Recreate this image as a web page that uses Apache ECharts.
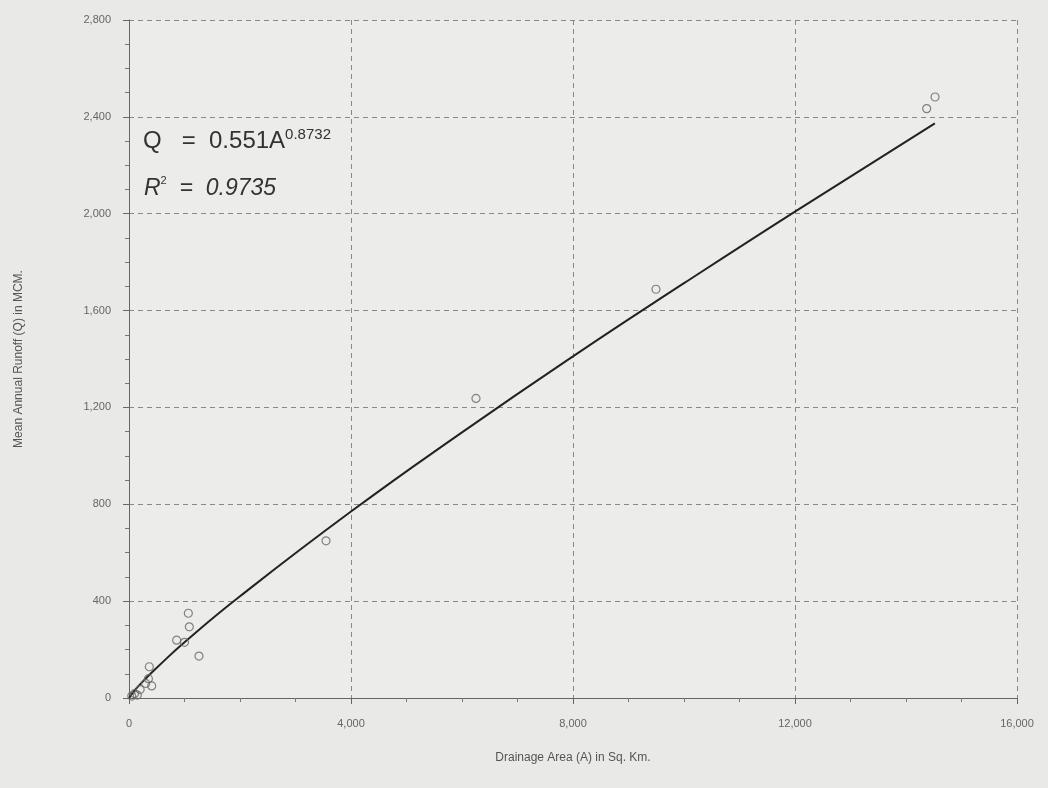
<!DOCTYPE html>
<html>
<head>
<meta charset="utf-8">
<script src="https://cdn.jsdelivr.net/npm/echarts@6/dist/echarts.min.js"></script>
<style>
html,body{margin:0;padding:0;background:#e9e9e7;}
#c{width:1048px;height:788px;}
</style>
</head>
<body>
<div id="c"></div>
<script>
// Observed data: drainage area (sq. km) and mean annual runoff (MCM)
const areaObs = [50, 100, 150, 200, 300, 350, 366, 409, 859, 1000, 1069, 1087, 1261, 3550, 6252, 9495, 14373, 14523];
const runoffObs = [8, 18, 12, 35, 60, 80, 129, 50, 239, 230, 350, 294, 173, 649, 1237, 1688, 2434, 2482];
// Fitted curve
const fitArea = [0, 100, 300, 500, 1000, 2000, 4000, 6000, 8000, 10000, 12000, 14520];
const fitRunoff = [0, 31, 80, 125, 230, 420, 770, 1097, 1411, 1713, 2009, 2373];
const xTicks = [0, 4000, 8000, 12000, 16000];
const yTicks = [0, 400, 800, 1200, 1600, 2000, 2400, 2800];

const chart = echarts.init(document.getElementById('c'));
const fmt = v => v.toLocaleString('en-US');
chart.setOption({
  backgroundColor: '#e9e9e7',
  animation: false,
  grid: {left: 129, right: 31, top: 20, bottom: 90, show: true, backgroundColor: '#ececea', borderWidth: 0},
  xAxis: {
    type: 'value', min: xTicks[0], max: xTicks[xTicks.length-1], interval: 4000,
    name: 'Drainage Area (A) in Sq. Km.', nameLocation: 'middle', nameGap: 54,
    nameTextStyle: {color: '#555', fontSize: 12, fontFamily: 'Liberation Sans'},
    axisLine: {show: true, lineStyle: {color: '#666', width: 1}},
    axisTick: {show: true, length: 6, lineStyle: {color: '#666'}},
    minorTick: {show: true, splitNumber: 4, length: 4, lineStyle: {color: '#777'}},
    axisLabel: {color: '#666', fontSize: 11, fontFamily: 'Liberation Sans', margin: 20, formatter: fmt},
    splitLine: {show: true, lineStyle: {color: '#888', type: [5, 4], width: 1}}
  },
  yAxis: {
    type: 'value', min: yTicks[0], max: yTicks[yTicks.length-1], interval: 400,
    name: 'Mean Annual Runoff (Q) in MCM.', nameLocation: 'middle', nameGap: 104, nameRotate: 90,
    nameTextStyle: {color: '#555', fontSize: 12, fontFamily: 'Liberation Sans'},
    axisLine: {show: true, lineStyle: {color: '#666', width: 1}},
    axisTick: {show: true, length: 6, lineStyle: {color: '#666'}},
    minorTick: {show: true, splitNumber: 4, length: 4, lineStyle: {color: '#777'}},
    axisLabel: {color: '#666', fontSize: 11, fontFamily: 'Liberation Sans', margin: 18, formatter: fmt},
    splitLine: {show: true, lineStyle: {color: '#888', type: [5, 4], width: 1}}
  },
  series: [
    {
      type: 'line', data: fitArea.map((a, i) => [a, fitRunoff[i]]),
      smooth: true, showSymbol: false, symbol: 'none',
      lineStyle: {color: '#222', width: 2}, z: 3
    },
    {
      type: 'scatter', data: areaObs.map((a, i) => [a, runoffObs[i]]),
      symbol: 'circle', symbolSize: 8,
      itemStyle: {color: 'rgba(0,0,0,0)', borderColor: '#666', borderWidth: 1.2}, z: 4
    }
  ],
  graphic: [
    {type: 'text', left: 143, top: 127, style: {
      text: '{a|Q   =  0.551A}{s|0.8732}', rich: {
        a: {fontSize: 24, fill: '#333', fontFamily: 'Liberation Sans', lineHeight: 28},
        s: {fontSize: 15, fill: '#333', fontFamily: 'Liberation Sans', verticalAlign: 'top', lineHeight: 16}
      }}},
    {type: 'text', left: 144, top: 175, style: {
      text: '{a|R}{s|2}{b|  =  0.9735}', rich: {
        a: {fontSize: 23, fill: '#333', fontStyle: 'italic', fontFamily: 'Liberation Sans', lineHeight: 28},
        s: {fontSize: 11, fill: '#333', fontFamily: 'Liberation Sans', verticalAlign: 'top', lineHeight: 14},
        b: {fontSize: 23, fill: '#333', fontStyle: 'italic', fontFamily: 'Liberation Sans', lineHeight: 28}
      }}}
  ]
});
</script>
</body>
</html>
